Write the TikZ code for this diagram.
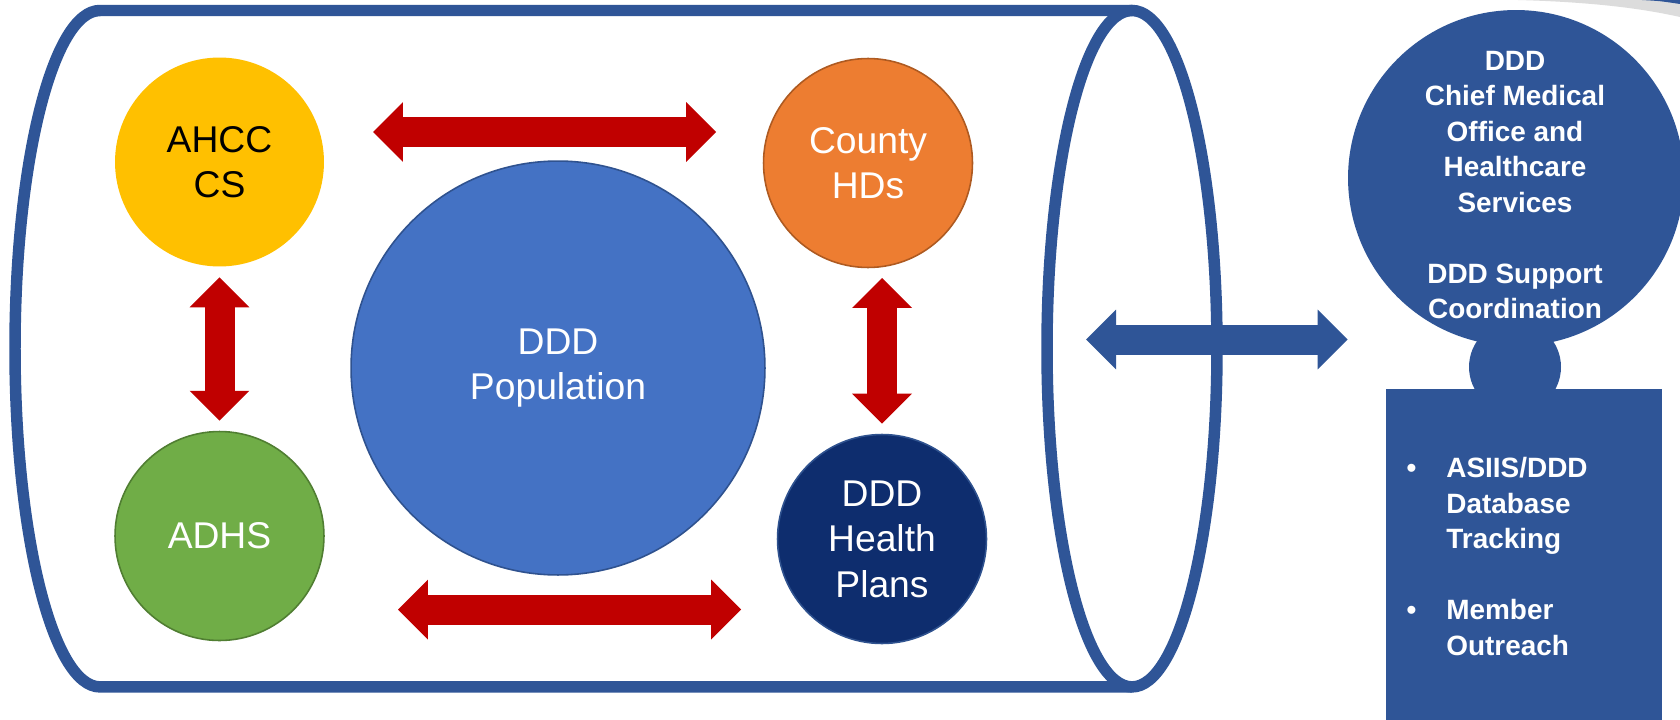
\documentclass[tikz,border=0pt]{standalone}
\usepackage{fontspec}
\setmainfont{Liberation Sans}
\usetikzlibrary{positioning}
\usetikzlibrary{arrows.meta}

\definecolor{cylblue}{HTML}{2F5597}
\definecolor{ahcyellow}{HTML}{FFC000}
\definecolor{adhsgreen}{HTML}{70AD47}
\definecolor{adhsline}{HTML}{507E32}
\definecolor{popblue}{HTML}{4472C4}
\definecolor{popline}{HTML}{2F528F}
\definecolor{countyorange}{HTML}{ED7D31}
\definecolor{countyline}{HTML}{AE5A21}
\definecolor{plannavy}{HTML}{0E2D6E}
\definecolor{arrowred}{HTML}{C00000}
\definecolor{swoosh}{HTML}{DCDCDC}

\newcommand{\bubblefont}{\fontsize{21.2pt}{25.9pt}\selectfont}
\newcommand{\panelfont}{\bfseries\fontsize{15.9pt}{20.2pt}\selectfont}

\begin{document}
\begin{tikzpicture}[x=0.02cm, y=-0.02cm,
    bubble/.style={circle, inner sep=0pt, minimum size=4.18cm, align=center, font=\bubblefont, line width=0.9pt},
    fatarrow/.style={line width=0.6cm,
        {Triangle[length=0.6cm, width=1.2cm, line width=0pt]}-{Triangle[length=0.6cm, width=1.2cm, line width=0pt]}},
    panel/.style={fill=cylblue, inner sep=0pt},
  ]

  \fill[white] (0,0) rectangle (1680,720);
  \useasboundingbox (0,0) rectangle (1680,720);

  % slide corner
  \fill[swoosh] (1518,0) .. controls (1590,2) and (1640,8) .. (1680,17) -- (1680,0) -- cycle;
  \fill[cylblue] (1642,0) .. controls (1660,1) .. (1680,4) -- (1680,0) -- cycle;

  % cylinder
  \draw[line width=0.23cm, cylblue] (1132,10.5) -- (100,10.5) arc[start angle=270, end angle=90, x radius=85, y radius=338.2] -- (1132,686.8);
  \draw[line width=0.23cm, cylblue] (1132,348.7) ellipse[x radius=85, y radius=338.2];

  \node[bubble, fill=ahcyellow] (AHCCCS) at (219.5,162) {AHCC\\CS};
  \node[bubble, fill=adhsgreen, draw=adhsline, text=white, below=3.27cm of AHCCCS] (ADHS) {ADHS};
  \node[bubble, fill=popblue, draw=popline, text=white, minimum size=8.28cm] (POP) at (558,368) {DDD\\Population};
  \node[bubble, fill=countyorange, draw=countyline, text=white] (COUNTY) at (868,163) {County\\HDs};
  \node[bubble, fill=plannavy, draw=popline, text=white] (PLANS) at (882,539) {DDD\\Health\\Plans};

  \node[panel, anchor=north, minimum width=5.52cm, minimum height=6.62cm] (TOOLS) at (1524,389) {};
  \node[panel, circle, minimum size=1.84cm] (NECK) at (1515,367) {};
  \node[panel, circle, minimum size=6.72cm] (CMO) at (1516,178) {};
  \node[font=\panelfont, text=white, align=center] (CMOTEXT) at (1515,185)
    {DDD\\Chief Medical\\Office and\\Healthcare\\Services\\[20.2pt]DDD Support\\Coordination};
  \node[font=\panelfont, text=white, align=left, anchor=north west, inner sep=0pt] (TOOLSTEXT) at (1446,457)
    {\llap{\textbullet\hspace{17pt}}ASIIS/DDD\\Database\\Tracking\\[20.2pt]\llap{\textbullet\hspace{17pt}}Member\\Outreach};

  \coordinate (TOPL) at (373,132);
  \coordinate (TOPR) at (716,132);
  \coordinate (BOTL) at (398,609.5);
  \coordinate (BOTR) at (741,609.5);
  \coordinate[below=0.2cm of AHCCCS] (LEFTT);
  \coordinate[above=0.2cm of ADHS] (LEFTB);
  \coordinate (RIGHTT) at (882,278);
  \coordinate[above=0.2cm of PLANS] (RIGHTB);
  \coordinate (LINKL) at (1086,339.5);
  \coordinate (LINKR) at (CMO.west |- LINKL);

  \draw[fatarrow, arrowred] (TOPL) -- (TOPR);
  \draw[fatarrow, arrowred] (BOTL) -- (BOTR);
  \draw[fatarrow, arrowred] (LEFTT) -- (LEFTB);
  \draw[fatarrow, arrowred] (RIGHTT) -- (RIGHTB);
  \draw[fatarrow, cylblue] (LINKL) -- (LINKR);

\end{tikzpicture}
\end{document}
